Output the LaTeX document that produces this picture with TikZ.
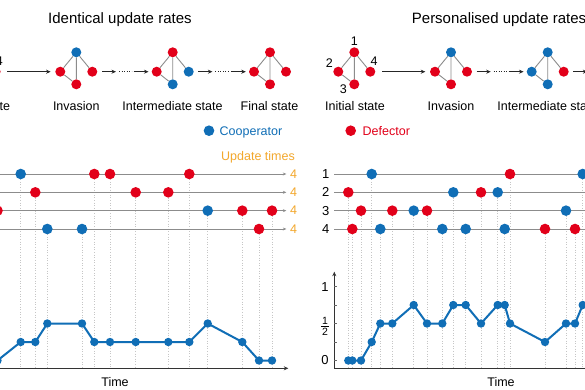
\documentclass[tikz,border=0pt]{standalone}
\usepackage{fontspec}
\setmainfont{Liberation Sans}
\usetikzlibrary{arrows.meta,calc}
\definecolor{cblue}{RGB}{16,110,182}
\definecolor{dred}{RGB}{226,0,26}
\definecolor{uorange}{RGB}{243,168,45}
\definecolor{rowgray}{RGB}{140,140,140}
\definecolor{edgegray}{RGB}{140,140,140}
\tikzset{
  dotC/.style={circle,fill=cblue,inner sep=0pt,minimum size=10.6pt},
  dotD/.style={circle,fill=dred,inner sep=0pt,minimum size=10.6pt},
  netC/.style={circle,fill=cblue,inner sep=0pt,minimum size=10pt},
  netD/.style={circle,fill=dred,inner sep=0pt,minimum size=10pt},
  netedge/.style={draw=edgegray,line width=0.9pt},
  flow/.style={draw=black!85,line width=0.8pt,-{Stealth[length=4.5pt,width=4pt]}},
  flowdots/.style={draw=black!85,line width=0.8pt,dash pattern=on 0.8pt off 1.7pt},
  dotline/.style={draw=gray!45,dotted,line width=0.6pt},
  rowline/.style={draw=rowgray,line width=0.7pt,-{Stealth[length=3.5pt,width=3pt]}},
  axisline/.style={draw=black!80,line width=0.8pt},
  ptC/.style={circle,fill=cblue,inner sep=0pt,minimum size=8.4pt},
  cline/.style={draw=cblue,line width=2pt,line join=round,line cap=round},
  lab/.style={font=\fontsize{12.5}{14}\selectfont,inner sep=0pt},
  ttl/.style={font=\fontsize{15}{18}\selectfont,inner sep=0pt},
}
\newcommand{\netw}[6]{%
  \node[#3] (#1t) at (#2,52.3) {};
  \node[#4] (#1l) at (#2-16,71.7) {};
  \node[#5] (#1r) at (#2+16,71.7) {};
  \node[#6] (#1b) at (#2,84.3) {};
  \draw[netedge] (#1t) -- (#1l) (#1t) -- (#1r) (#1t) -- (#1b) (#1l) -- (#1b);
}
\newcommand{\longarr}[2]{\draw[flow,shorten <=6.5pt,shorten >=4.5pt] (#1) -- (#2);}
\newcommand{\dotarr}[3]{%
  \path (#1.east) ++(4.5,0) coordinate (#3s) ++(14,0) coordinate (#3m) ++(3,0) coordinate (#3d);
  \path (#2.west) ++(-3,0) coordinate (#3e) ++(-15,0) coordinate (#3n) ++(-2,0) coordinate (#3f);
  \draw[flow] (#3s) -- (#3m);
  \draw[flowdots] (#3d) -- (#3f);
  \draw[flow] (#3n) -- (#3e);
}
\begin{document}
\begin{tikzpicture}[x=1pt,y=-1pt]
\useasboundingbox (0,0) rectangle (585,390);
\clip (0,0) rectangle (585,390);
\fill[white] (0,0) rectangle (585,390);

% ---------- titles ----------
\node[ttl,anchor=base west] (ltitle) at (48,23.5) {Identical update rates};
\node[ttl,anchor=base west] (rtitle) at (411.7,23.5) {Personalised update rates};

% ---------- networks, left ----------
\netw{LI}{-20.4}{netD}{netD}{netD}{netD}
\node[lab] (LIn4) at (-0.7,61) {4};
\netw{LV}{76.3}{netC}{netD}{netD}{netD}
\netw{LM}{172.7}{netD}{netD}{netC}{netC}
\netw{LF}{270}{netD}{netD}{netD}{netD}
\longarr{LIr}{LVl}
\dotarr{LVr}{LMl}{la}
\dotarr{LMr}{LFl}{lb}
\node[lab,anchor=base] (LIlab) at (-19.7,111) {Initial state};
\node[lab,anchor=base] (LVlab) at (76.3,111) {Invasion};
\node[lab,anchor=base] (LMlab) at (172.5,111) {Intermediate state};
\node[lab,anchor=base] (LFlab) at (269.5,111) {Final state};

% ---------- networks, right ----------
\netw{RI}{354.3}{netD}{netD}{netD}{netD}
\node[lab] (RIn1) at (354.3,41) {1};
\node[lab] (RIn2) at (329.3,63) {2};
\node[lab] (RIn4) at (374,61) {4};
\node[lab] (RIn3) at (343.3,89) {3};
\netw{RV}{451}{netC}{netD}{netD}{netD}
\netw{RM}{547.7}{netC}{netC}{netD}{netC}
\node[netD] (RFl) at (628.4,71.7) {};
\longarr{RIr}{RVl}
\dotarr{RVr}{RMl}{ra}
\dotarr{RMr}{RFl}{rb}
\node[lab,anchor=base] (RIlab) at (355,111) {Initial state};
\node[lab,anchor=base] (RVlab) at (451,111) {Invasion};
\node[lab,anchor=base] (RMlab) at (547.5,111) {Intermediate state};

% ---------- legend ----------
\node[dotC] (legC) at (209,130.7) {};
\node[lab,anchor=base west,text=cblue] (legCt) at (219.5,135.5) {Cooperator};
\node[dotD] (legD) at (350.7,130.7) {};
\node[lab,anchor=base west,text=dred] (legDt) at (362.5,135.5) {Defector};
\node[lab,anchor=base east,text=uorange] (upd) at (295,160.5) {Update times};

% ---------- left event data ----------
\foreach \x/\r/\t/\l [count=\i] in {
  -2.5/3/D/0, 20.7/1/C/1, 35.3/2/D/1, 47.3/4/C/2, 82/4/C/2, 94.3/1/D/1,
  110/1/D/1, 135.7/2/D/1, 168.3/2/D/1, 189.3/1/D/1, 207.7/3/C/2,
  242.3/3/D/1, 259/4/D/0, 272/3/D/0}{
  \coordinate (LP\i) at (\x,360.5-18.5*\l);
  \coordinate (LR\i) at (\x,174+18.33*\r-18.33);
  \coordinate (LA\i) at (\x,368.3);
  \draw[dotline] (LR\i) -- (LA\i);
}
\foreach \r in {1,2,3,4}{
  \coordinate (Ls\r) at (-10,174+18.33*\r-18.33);
  \node[lab,text=uorange] (Lu\r) at (293.5,174+18.33*\r-18.33) {4};
  \draw[rowline,shorten >=3.5pt] (Ls\r) -- (Lu\r);
}
\foreach \x/\r/\t/\l [count=\i] in {
  -2.5/3/D/0, 20.7/1/C/1, 35.3/2/D/1, 47.3/4/C/2, 82/4/C/2, 94.3/1/D/1,
  110/1/D/1, 135.7/2/D/1, 168.3/2/D/1, 189.3/1/D/1, 207.7/3/C/2,
  242.3/3/D/1, 259/4/D/0, 272/3/D/0}{
  \node[dot\t] (LRn\i) at (LR\i) {};
}
\coordinate (LxS) at (-10,368.3);
\coordinate (LxE) at (288.3,368.3);
\draw[axisline,-{Stealth[length=4.5pt,width=4pt]}] (LxS) -- (LxE);
\node[lab,anchor=base] (Ltime) at (115,386) {Time};
\draw[cline] (LP1) \foreach \i in {2,...,14}{ -- (LP\i)};
\foreach \i in {1,...,14}{ \node[ptC] (LPn\i) at (LP\i) {}; }

% ---------- right event data ----------
\foreach \x/\r/\t/\l [count=\i] in {
  348.3/2/D/0, 352.3/4/D/0, 361/3/D/0, 371.7/1/C/1, 380.3/4/C/2, 392.3/3/D/2,
  413.7/3/C/3, 427/3/D/2, 442.3/4/C/2, 453.3/2/C/3, 465.7/4/C/3, 481/2/D/2,
  497.7/2/C/3, 504.7/4/C/3, 510/1/D/2, 545/4/D/1, 566/3/C/2, 575/4/D/2,
  582.7/1/C/3}{
  \coordinate (RP\i) at (\x,360.5-18.5*\l);
  \coordinate (RR\i) at (\x,174+18.33*\r-18.33);
  \coordinate (RA\i) at (\x,368.3);
  \draw[dotline] (RR\i) -- (RA\i);
}
\foreach \r in {1,2,3,4}{
  \node[lab,font=\fontsize{13}{15}\selectfont] (Rn\r) at (325.7,174+18.33*\r-18.33) {\r};
  \coordinate (Re\r) at (600,174+18.33*\r-18.33);
  \draw[draw=rowgray,line width=0.7pt,shorten <=4.8pt] (Rn\r) -- (Re\r);
}
\foreach \x/\r/\t/\l [count=\i] in {
  348.3/2/D/0, 352.3/4/D/0, 361/3/D/0, 371.7/1/C/1, 380.3/4/C/2, 392.3/3/D/2,
  413.7/3/C/3, 427/3/D/2, 442.3/4/C/2, 453.3/2/C/3, 465.7/4/C/3, 481/2/D/2,
  497.7/2/C/3, 504.7/4/C/3, 510/1/D/2, 545/4/D/1, 566/3/C/2, 575/4/D/2,
  582.7/1/C/3}{
  \node[dot\t] (RRn\i) at (RR\i) {};
}
\coordinate (Ro) at (334.3,368.3);
\coordinate (RxE) at (600,368.3);
\coordinate (RyE) at (334.3,271.7);
\draw[axisline] (Ro) -- (RxE);
\draw[axisline,-{Stealth[length=4.5pt,width=4pt]}] (Ro) -- (RyE);
\foreach \l in {0,1,2,3,4}{
  \coordinate (Rt\l) at (334.3,360.5-18.5*\l);
  \coordinate (Rtt\l) at (337.3,360.5-18.5*\l);
  \draw[draw=black!60,line width=0.5pt] (Rt\l) -- (Rtt\l);
}
\node[lab,font=\fontsize{13}{15}\selectfont] (Ry0) at (325,360.5) {0};
\node[lab,font=\fontsize{13}{15}\selectfont] (Ry1) at (325,286.7) {1};
\node[lab,font=\fontsize{10.5}{12}\selectfont] (Ryn) at (325,320.8) {1};
\node[lab,font=\fontsize{10.5}{12}\selectfont] (Ryd) at (325,332.3) {2};
\coordinate (Rfa) at (321.3,326.6);
\coordinate (Rfb) at (328.7,326.6);
\draw[line width=0.6pt] (Rfa) -- (Rfb);
\node[lab,anchor=base] (Rtime) at (501,386) {Time};
\draw[cline] (RP1) \foreach \i in {2,...,19}{ -- (RP\i)};
\foreach \i in {1,...,19}{ \node[ptC] (RPn\i) at (RP\i) {}; }
\end{tikzpicture}
\end{document}
